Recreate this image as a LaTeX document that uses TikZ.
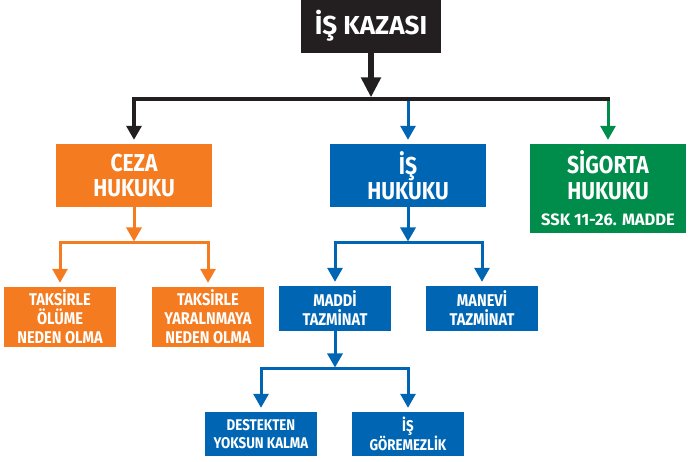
\documentclass[tikz,border=0pt]{standalone}
\usepackage{fontspec}
\setmainfont[FakeStretch=0.86]{Fira Sans}
\newfontfamily\widefont{Fira Sans}
\usetikzlibrary{arrows.meta}
\definecolor{kblack}{HTML}{231F20}
\definecolor{korange}{HTML}{F47B20}
\definecolor{kblue}{HTML}{0066B3}
\definecolor{kgreen}{HTML}{008C4A}
\begin{document}
\begin{tikzpicture}[x=1pt,y=-1pt,
  box/.style={inner sep=0pt,text=white,align=center},
  lvltwo/.style={box,minimum width=156pt,font=\bfseries\fontsize{24.5}{25.5}\selectfont},
  small/.style={box,minimum width=112pt,font=\bfseries\fontsize{17}{19}\selectfont},
  tiny/.style={box,minimum width=112pt,minimum height=44pt,font=\bfseries\fontsize{15.5}{18.5}\selectfont},
  conn/.style={line width=3pt},
  arr/.style={conn,-{Triangle[width=15pt,length=14pt]}},
  toarr/.style={arr,shorten >=4pt},
  tojn/.style={arr,shorten >=1.5pt}]
\useasboundingbox (0,0) rectangle (691,462);
% nodes
\node[box,fill=kblack,minimum width=140pt,minimum height=54pt,font=\widefont\bfseries\fontsize{26}{28}\selectfont] (top) at (371,26) {İŞ KAZASI};
\node[lvltwo,fill=korange,minimum height=63pt] (ceza) at (134,175.5) {CEZA\\HUKUKU};
\node[lvltwo,fill=kblue,minimum height=63pt] (ish) at (408,175.5) {İŞ\\HUKUKU};
\node[lvltwo,fill=kgreen,minimum height=89pt] (sig) at (608,188.5) {SİGORTA\\HUKUKU\\[1pt]{\widefont\fontsize{16.5}{18}\selectfont SSK 11-26. MADDE}};
\node[small,fill=korange,minimum height=60pt] (tak1) at (60,317) {TAKSİRLE\\ÖLÜME\\NEDEN OLMA};
\node[small,fill=korange,minimum height=60pt] (tak2) at (208,317) {TAKSİRLE\\YARALNMAYA\\NEDEN OLMA};
\node[small,fill=kblue,minimum height=45pt] (maddi) at (335,308.5) {MADDİ\\TAZMİNAT};
\node[small,fill=kblue,minimum height=45pt] (manevi) at (482,308.5) {MANEVİ\\TAZMİNAT};
\node[tiny,fill=kblue] (dest) at (261,434) {DESTEKTEN\\YOKSUN KALMA};
\node[tiny,fill=kblue] (gor) at (408,434) {İŞ\\GÖREMEZLİK};
% junctions
\coordinate (j0) at (371,99);
\coordinate (j0r) at (608,99);
\coordinate (j1) at (134,243);
\coordinate (j2) at (408,243);
\coordinate (j3) at (335,369);
% level 1
\draw[kblack,line width=6pt,-{Triangle[width=19pt,length=20pt]},shorten >=1.6pt] (top) -- (j0);
\draw[kblue,toarr] (ish |- j0) -- (ish);
\draw[kgreen,toarr] (j0r) -- (sig);
\draw[kblack,toarr,line width=3.3pt] (j0) -| (ceza);
\draw[kblack,line width=3.3pt,line cap=rect] (j0) -- (j0r);
% ceza
\draw[korange,tojn] (ceza) -- (j1);
\draw[korange,toarr] (j1) -| (tak1);
\draw[korange,toarr] (j1) -| (tak2);
% is hukuku
\draw[kblue,tojn] (ish) -- (j2);
\draw[kblue,toarr] (j2) -| (maddi);
\draw[kblue,toarr] (j2) -| (manevi);
% maddi
\draw[kblue,tojn] (maddi) -- (j3);
\draw[kblue,toarr] (j3) -| (dest);
\draw[kblue,toarr] (j3) -| (gor);
\end{tikzpicture}
\end{document}
